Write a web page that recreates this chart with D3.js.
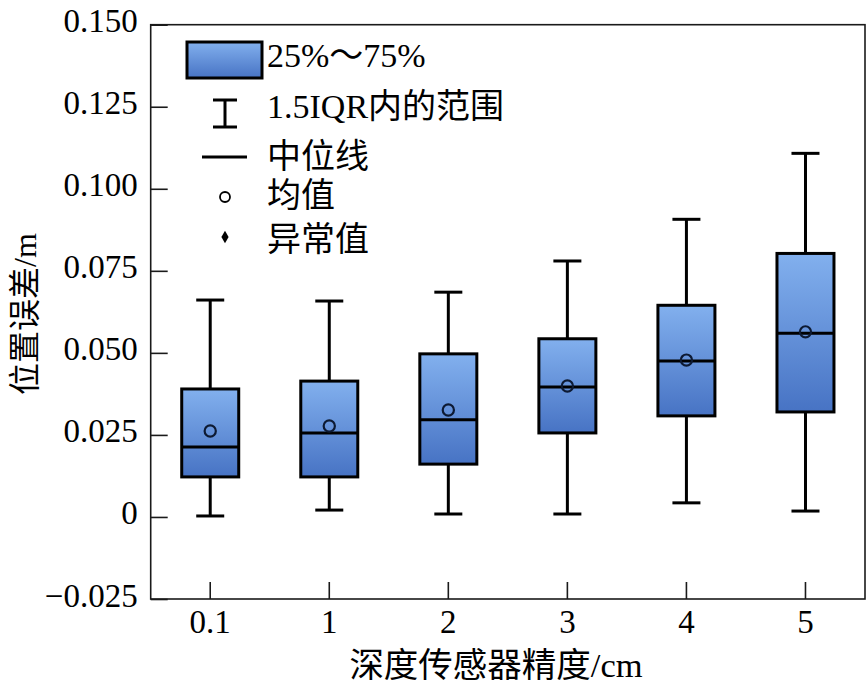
<!DOCTYPE html>
<html>
<head>
<meta charset="utf-8">
<script src="https://cdn.jsdelivr.net/npm/d3@7"></script>
<style>
  html, body { margin: 0; padding: 0; background: #fff; }
  svg { display: block; }
  text { font-family: "Liberation Serif", "Times New Roman", "Noto Sans CJK SC", serif; fill: #000; }
</style>
</head>
<body>
<svg id="chart" width="867" height="686"></svg>
<script>
// ---- data ----
const categories = ["0.1", "1", "2", "3", "4", "5"];
const whiskerLow  = [0.0003, 0.0021, 0.0009, 0.0009, 0.0043, 0.0018];
const q1          = [0.0122, 0.0122, 0.0161, 0.0256, 0.0308, 0.0320];
const median      = [0.0213, 0.0256, 0.0296, 0.0396, 0.0475, 0.0560];
const q3          = [0.0390, 0.0414, 0.0497, 0.0543, 0.0645, 0.0803];
const whiskerHigh = [0.0661, 0.0658, 0.0685, 0.0780, 0.0907, 0.1108];
const means       = [0.0262, 0.0277, 0.0326, 0.0399, 0.0478, 0.0564];
const yTickValues = [-0.025, 0, 0.025, 0.050, 0.075, 0.100, 0.125, 0.150];
const yTickLabels = ["\u22120.025", "0", "0.025", "0.050", "0.075", "0.100", "0.125", "0.150"];
const legendLabels = ["25%\uFF5E75%", "1.5IQR内的范围", "中位线", "均值", "异常值"];
const xTitle = "深度传感器精度/cm";
const yTitle = "位置误差/m";

// ---- layout ----
const svg = d3.select("#chart");
const L = 150.7, R = 865, T = 24.7, B = 599;
const FS = 33;

const x = d3.scaleBand().domain(categories).range([L, R]).paddingInner(0).paddingOuter(0);
const y = d3.scaleLinear().domain([-0.025, 0.150]).range([B, T]);

const defs = svg.append("defs");
const grad = defs.append("linearGradient").attr("id", "boxGrad")
  .attr("x1", 0).attr("y1", 0).attr("x2", 0).attr("y2", 1);
grad.append("stop").attr("offset", "0%").attr("stop-color", "#82b0ee");
grad.append("stop").attr("offset", "100%").attr("stop-color", "#4773c4");

// frame
svg.append("rect").attr("x", L).attr("y", T).attr("width", R - L).attr("height", B - T)
  .attr("fill", "none").attr("stroke", "#1a1a1a").attr("stroke-width", 1.6);

// y axis
const yAxis = d3.axisLeft(y).tickValues(yTickValues)
  .tickFormat((d, i) => yTickLabels[i]).tickSize(-17).tickSizeOuter(0).tickPadding(13);
const gy = svg.append("g").attr("transform", `translate(${L},0)`).call(yAxis);
gy.select(".domain").remove();
gy.selectAll(".tick line").attr("stroke", "#1a1a1a").attr("stroke-width", 1.6);
gy.selectAll(".tick text").attr("font-size", FS).attr("dy", null)
  .attr("y", 7).attr("font-family", "Liberation Serif, serif");

// x axis
const xAxis = d3.axisBottom(x).tickSize(-17).tickSizeOuter(0).tickPadding(11);
const gx = svg.append("g").attr("transform", `translate(0,${B})`).call(xAxis);
gx.select(".domain").remove();
gx.selectAll(".tick line").attr("stroke", "#1a1a1a").attr("stroke-width", 1.6);
gx.selectAll(".tick text").attr("font-size", FS).attr("dy", null)
  .attr("y", 34).attr("font-family", "Liberation Serif, serif");

// boxes
const bw = 57, cap = 28, sw = 3;
const data = categories.map((c, i) => ({
  c, lo: whiskerLow[i], q1: q1[i], med: median[i], q3: q3[i], hi: whiskerHigh[i], mean: means[i]
}));
const g = svg.append("g");
const cx = d => x(d.c) + x.bandwidth() / 2;

g.selectAll(".wU").data(data).join("line")
  .attr("x1", cx).attr("x2", cx).attr("y1", d => y(d.q3)).attr("y2", d => y(d.hi))
  .attr("stroke", "#000").attr("stroke-width", sw);
g.selectAll(".wL").data(data).join("line")
  .attr("x1", cx).attr("x2", cx).attr("y1", d => y(d.q1)).attr("y2", d => y(d.lo))
  .attr("stroke", "#000").attr("stroke-width", sw);
g.selectAll(".capU").data(data).join("line")
  .attr("x1", d => cx(d) - cap / 2).attr("x2", d => cx(d) + cap / 2)
  .attr("y1", d => y(d.hi)).attr("y2", d => y(d.hi))
  .attr("stroke", "#000").attr("stroke-width", sw);
g.selectAll(".capL").data(data).join("line")
  .attr("x1", d => cx(d) - cap / 2).attr("x2", d => cx(d) + cap / 2)
  .attr("y1", d => y(d.lo)).attr("y2", d => y(d.lo))
  .attr("stroke", "#000").attr("stroke-width", sw);
g.selectAll(".box").data(data).join("rect")
  .attr("x", d => cx(d) - bw / 2).attr("width", bw)
  .attr("y", d => y(d.q3)).attr("height", d => y(d.q1) - y(d.q3))
  .attr("fill", "url(#boxGrad)").attr("stroke", "#000").attr("stroke-width", sw);
g.selectAll(".med").data(data).join("line")
  .attr("x1", d => cx(d) - bw / 2).attr("x2", d => cx(d) + bw / 2)
  .attr("y1", d => y(d.med)).attr("y2", d => y(d.med))
  .attr("stroke", "#000").attr("stroke-width", sw);
g.selectAll(".mean").data(data).join("circle")
  .attr("cx", cx).attr("cy", d => y(d.mean)).attr("r", 5.6)
  .attr("fill", "none").attr("stroke", "#0d1a33").attr("stroke-width", 2.2);

// legend
const lg = svg.append("g");
const lx = 225, tx = 267;
lg.append("rect").attr("x", 187).attr("y", 42).attr("width", 75).attr("height", 36)
  .attr("fill", "url(#boxGrad)").attr("stroke", "#000").attr("stroke-width", 3);
lg.append("line").attr("x1", lx).attr("x2", lx).attr("y1", 100).attr("y2", 127)
  .attr("stroke", "#000").attr("stroke-width", 3);
lg.append("line").attr("x1", lx - 12).attr("x2", lx + 12).attr("y1", 100).attr("y2", 100)
  .attr("stroke", "#000").attr("stroke-width", 3);
lg.append("line").attr("x1", lx - 12).attr("x2", lx + 12).attr("y1", 127).attr("y2", 127)
  .attr("stroke", "#000").attr("stroke-width", 3);
lg.append("line").attr("x1", 202).attr("x2", 247).attr("y1", 157).attr("y2", 157)
  .attr("stroke", "#000").attr("stroke-width", 3);
lg.append("circle").attr("cx", lx).attr("cy", 197).attr("r", 5)
  .attr("fill", "none").attr("stroke", "#000").attr("stroke-width", 1.8);
lg.append("path").attr("d", d3.symbol().type(d3.symbolDiamond).size(45))
  .attr("transform", `translate(${lx},237)`).attr("fill", "#000");
const legendY = [67, 118, 168, 207, 251];
lg.selectAll(".lt").data(legendLabels).join("text")
  .attr("x", tx).attr("y", (d, i) => legendY[i]).attr("font-size", 34).text(d => d);

// axis titles
svg.append("text").attr("x", 496).attr("y", 677).attr("text-anchor", "middle")
  .attr("font-size", 34.5).text(xTitle);
svg.append("text").attr("transform", "translate(25,314) rotate(-90)")
  .attr("text-anchor", "middle").attr("dominant-baseline", "central")
  .attr("font-size", 32).text(yTitle);
</script>
</body>
</html>
